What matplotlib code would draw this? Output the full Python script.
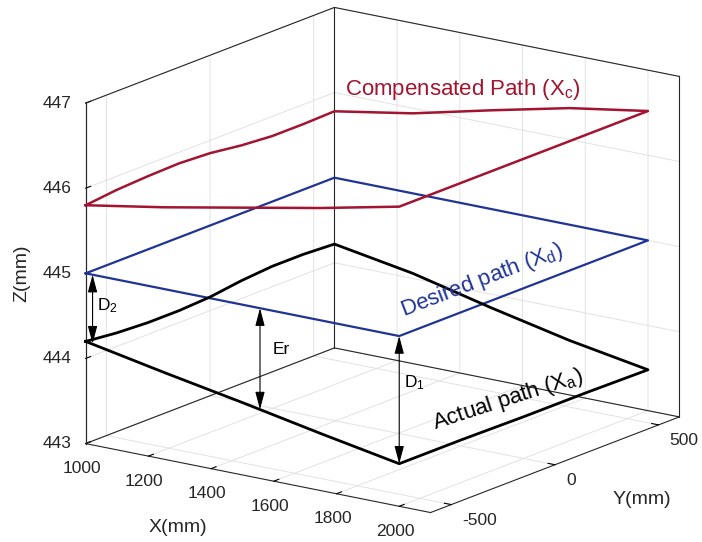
import numpy as np
import matplotlib
matplotlib.use('Agg')
import matplotlib.pyplot as plt
from mpl_toolkits.mplot3d import proj3d

plt.rcParams['font.family'] = ['Liberation Sans', 'DejaVu Sans']
plt.rcParams['mathtext.default'] = 'regular'
plt.rcParams['axes.unicode_minus'] = False

# ---------------- data ----------------
# square path: edge A (y=-600, x 1000->2000), edge B (x=2000, y -600->600),
# edge C (y=600, x 2000->1000), edge D (x=1000, y 600->-600)
path_x = [1000, 1250, 1500, 1750, 2000,
          2000, 2000, 2000, 2000,
          1750, 1500, 1250, 1000,
          1000, 1000, 1000, 1000, 1000, 1000, 1000, 1000]
path_y = [-600, -600, -600, -600, -600,
          -300, 0, 300, 600,
          600, 600, 600, 600,
          450, 300, 150, 0, -150, -300, -450, -600]
desired_z = [445.0] * 21
actual_z = [444.20, 444.02, 443.85, 443.67, 443.50,
            443.50, 443.49, 443.49, 443.48,
            443.64, 443.84, 444.06, 444.22,
            444.24, 444.24, 444.21, 444.16, 444.14, 444.14, 444.16, 444.20]
comp_z = [445.80, 445.96, 446.14, 446.32, 446.52,
          446.52, 446.52, 446.52, 446.52,
          446.37, 446.16, 445.94, 445.78,
          445.77, 445.77, 445.80, 445.85, 445.87, 445.86, 445.84, 445.80]

x_ticks = [1000, 1200, 1400, 1600, 1800, 2000]
y_ticks = [-500, 0, 500]
z_ticks = [443, 444, 445, 446, 447]
x_lim = (1000, 2100)
y_lim = (-600, 600)
z_lim = (443, 447)

# arrows: (x, y, z_top, z_bottom)
arrow_D2 = (1022, -600, 445.0, 444.19)
arrow_Er = (1556, -600, 445.0, 443.81)
arrow_D1 = (2000, -600, 445.0, 443.50)

RED = '#A2142F'
BLUE = '#1f3494'
AX_COL = '#262626'

W, H = 702, 542
fig = plt.figure(figsize=(W / 100, H / 100), dpi=100)
S = 900
ax = fig.add_axes([0.5 - S / W / 2, 0.5 - S / H / 2, S / W, S / H],
                  projection='3d', proj_type='ortho')
ax.view_init(elev=16.1, azim=-54.2)
ZOOM = 1.0
ASPECT = (1.2, 1.2, 1.0)
ax.set_box_aspect(ASPECT, zoom=ZOOM)
ax.patch.set_alpha(0)

# back box edges (MATLAB "box on" style)
x0, x1 = x_lim
y0, y1 = y_lim
z0, z1 = z_lim
box_edges = [
    ([x0, x0], [y1, y1], [z0, z1]),          # back vertical
    ([x1, x1], [y1, y1], [z0, z1]),          # right vertical
    ([x0, x0], [y0, y0], [z0, z1]),          # left vertical
    ([x0, x0, x1], [y0, y1, y1], [z1, z1, z1]),  # top back edges
    ([x0, x0, x1], [y0, y1, y1], [z0, z0, z0]),  # bottom back edges
]
for bx, by, bz in box_edges:
    ax.plot(bx, by, bz, color=AX_COL, lw=0.8, zorder=1)

ax.plot(path_x, path_y, desired_z, color=BLUE, lw=1.6)
ax.plot(path_x, path_y, actual_z, color='black', lw=2.0)
ax.plot(path_x, path_y, comp_z, color=RED, lw=1.8)

try:
    ax.set_xlim(*x_lim, view_margin=0)
    ax.set_ylim(*y_lim, view_margin=0)
    ax.set_zlim(*z_lim, view_margin=0)
except TypeError:
    ax.set_xlim(*x_lim)
    ax.set_ylim(*y_lim)
    ax.set_zlim(*z_lim)
ax.set_xticks(x_ticks)
ax.set_yticks(y_ticks)
ax.set_zticks(z_ticks)
ax.set_xticklabels([])
ax.set_yticklabels([])
ax.set_zticklabels([])
try:
    ax.zaxis.set_ticks_position('lower')
except Exception:
    pass

for axis in (ax.xaxis, ax.yaxis, ax.zaxis):
    axis.set_pane_color((1, 1, 1, 0))
    axis.line.set_color(AX_COL)
    axis.line.set_linewidth(0.8)
    axis._axinfo['tick']['inward_factor'] = 0.0
    axis._axinfo['tick']['outward_factor'] = 0.25
    axis._axinfo['tick']['color'] = AX_COL
    axis._axinfo['grid']['color'] = '#e2e2e2'
    axis._axinfo['grid']['linewidth'] = 0.7


def box_px():
    M = ax.get_proj()
    pts = np.array([(x, y, z) for x in x_lim for y in y_lim for z in z_lim], float)
    px, py, _ = proj3d.proj_transform(pts[:, 0], pts[:, 1], pts[:, 2], M)
    return ax.transData.transform(np.column_stack([px, py]))


def to_px(x, y, z):
    M = ax.get_proj()
    px, py, _ = proj3d.proj_transform(np.array([x], float), np.array([y], float),
                                      np.array([z], float), M)
    return ax.transData.transform(np.column_stack([px, py]))[0]


# fit box to target pixel region (x 85..680, y 8..512 from top)
TX0, TX1 = 85, 680
TY0, TY1 = H - 512, H - 8
for _ in range(3):
    fig.canvas.draw()
    d = box_px()
    w = d[:, 0].max() - d[:, 0].min()
    h = d[:, 1].max() - d[:, 1].min()
    ZOOM *= ((TX1 - TX0) / w + (TY1 - TY0) / h) / 2
    ax.set_box_aspect(ASPECT, zoom=ZOOM)
    fig.canvas.draw()
    d = box_px()
    cx = (d[:, 0].max() + d[:, 0].min()) / 2
    cy = (d[:, 1].max() + d[:, 1].min()) / 2
    pos = ax.get_position(original=True)
    ax.set_position([pos.x0 + ((TX0 + TX1) / 2 - cx) / W,
                     pos.y0 + ((TY0 + TY1) / 2 - cy) / H,
                     pos.width, pos.height])
fig.canvas.draw()

# tick labels placed next to projected tick positions
TICK_FS = 12.5
for v in z_ticks:
    p = to_px(x0, y0, v)
    ax.annotate(str(v), xy=(p[0] - 14, p[1]), xycoords='figure pixels',
                ha='right', va='center', fontsize=TICK_FS, color=AX_COL,
                annotation_clip=False)
for v in x_ticks:
    p = to_px(v, y0, z0)
    ax.annotate(str(v), xy=(p[0] - 4, p[1] - 25), xycoords='figure pixels',
                ha='center', va='center', fontsize=TICK_FS, color=AX_COL,
                annotation_clip=False)
for v in y_ticks:
    p = to_px(x1, v, z0)
    ax.annotate(str(v), xy=(p[0] + 11, p[1] - 16), xycoords='figure pixels',
                ha='left', va='center', fontsize=TICK_FS, color=AX_COL,
                annotation_clip=False)

# arrows
for (ax_x, ax_y, zt, zb) in (arrow_D2, arrow_Er, arrow_D1):
    p_top = to_px(ax_x, ax_y, zt)
    p_bot = to_px(ax_x, ax_y, zb)
    ax.annotate('', xy=tuple(p_top), xytext=tuple(p_bot),
                xycoords='figure pixels', textcoords='figure pixels',
                annotation_clip=False,
                arrowprops=dict(arrowstyle='<|-|>,head_length=0.6,head_width=0.16',
                                color='black', lw=0.8, shrinkA=0, shrinkB=0,
                                mutation_scale=18))


def ftext(x, y, s, **kw):
    fig.text(x / W, 1 - y / H, s, **kw)


ftext(107, 306, 'D$_2$', fontsize=12.5, ha='center', va='center')
ftext(281, 350, 'Er', fontsize=12.5, ha='center', va='center')
ftext(414, 383, 'D$_1$', fontsize=12.5, ha='center', va='center')

ftext(345, 90, 'Compensated Path (X$_c$)', fontsize=16, color=RED, ha='left', va='center')
ftext(482, 280, 'Desired path (X$_d$)', fontsize=16, color=BLUE, ha='center', va='center',
      rotation=21, rotation_mode='anchor')
ftext(508, 400, 'Actual path (X$_a$)', fontsize=16, color='black', ha='center', va='center',
      rotation=18, rotation_mode='anchor')

ftext(178, 527, 'X(mm)', fontsize=14, color=AX_COL, ha='center', va='center')
ftext(642, 500, 'Y(mm)', fontsize=14, color=AX_COL, ha='center', va='center')
ftext(22, 273, 'Z(mm)', fontsize=14, color=AX_COL, ha='center', va='center', rotation=90)

fig.savefig('out.png', dpi=100)
